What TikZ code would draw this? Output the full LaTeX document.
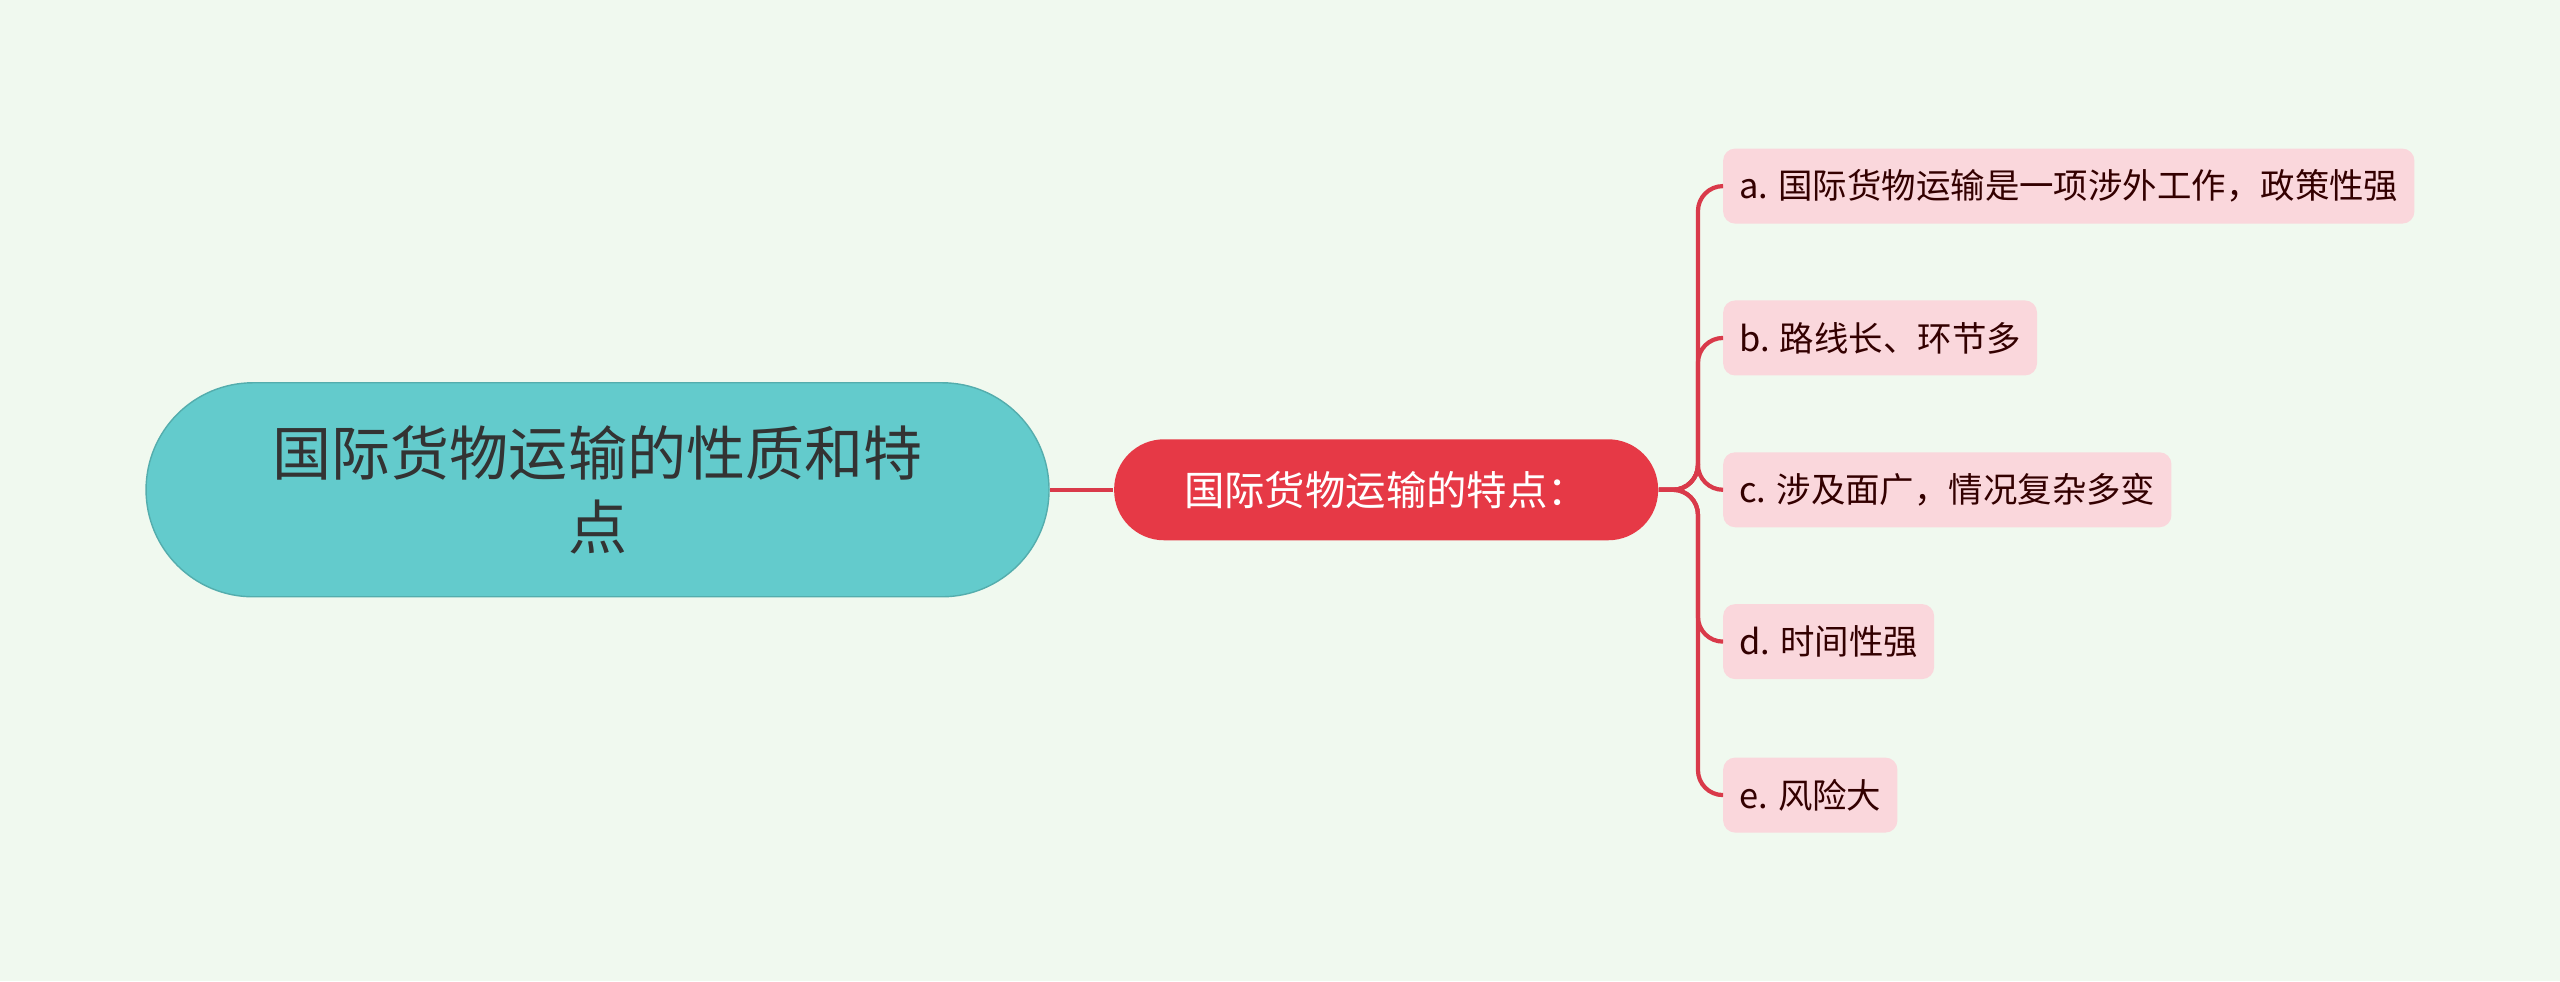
\documentclass[tikz,border=0pt]{standalone}
\usepackage{fontspec}
\setmainfont{Noto Sans CJK SC}
\definecolor{bg}{HTML}{F0F9EF}
\definecolor{rootfill}{HTML}{63CBCC}
\definecolor{midfill}{HTML}{E63946}
\definecolor{leaffill}{HTML}{FAD7DC}
\definecolor{linkred}{HTML}{D93A4A}
\begin{document}
\begin{tikzpicture}[x=0.01633cm,y=-0.01633cm]
		\tikzstyle{rootbox}=[rounded corners=1.07cm,fill=rootfill,draw=rootfill!85!black,minimum width=9.03cm,minimum height=2.14cm,align=center,font=\fontsize{16.8}{21}\selectfont,text=black!80]
		\tikzstyle{midbox}=[rounded corners=0.5cm,fill=midfill,minimum width=5.44cm,minimum height=1.01cm,font=\fontsize{11.5}{13}\selectfont,text=white]
		\tikzstyle{leafbox}=[rounded corners=0.12cm,fill=leaffill,minimum height=0.75cm,inner xsep=0.16cm,anchor=west,font=\fontsize{9.8}{11}\selectfont,text=black!80!red]
		\tikzstyle{link}=[draw=linkred,line width=1.2pt]
		\fill[bg] (0,0) rectangle (1568,601);
		\useasboundingbox (0,0) rectangle (1568,601);

		\node (root) at (366,300) [rootbox] {国际货物运输的性质和特\\点};
		\node (mid) at (849,300) [midbox] {国际货物运输的特点：};

		\node (la) at (1055,114) [leafbox] {a. 国际货物运输是一项涉外工作，政策性强};
		\node (lb) at (1055,207) [leafbox] {b. 路线长、环节多};
		\node (lc) at (1055,300) [leafbox] {c. 涉及面广，情况复杂多变};
		\node (ld) at (1055,393) [leafbox] {d. 时间性强};
		\node (le) at (1055,487) [leafbox] {e. 风险大};

		\path [link] (root.east) -- (mid.west);
		\foreach \leaf in {la,lb,lc,ld,le}
			\path [link,rounded corners=0.25cm] (mid.east) -- (1040,300) |- (\leaf.west);
	\end{tikzpicture}
\end{document}
